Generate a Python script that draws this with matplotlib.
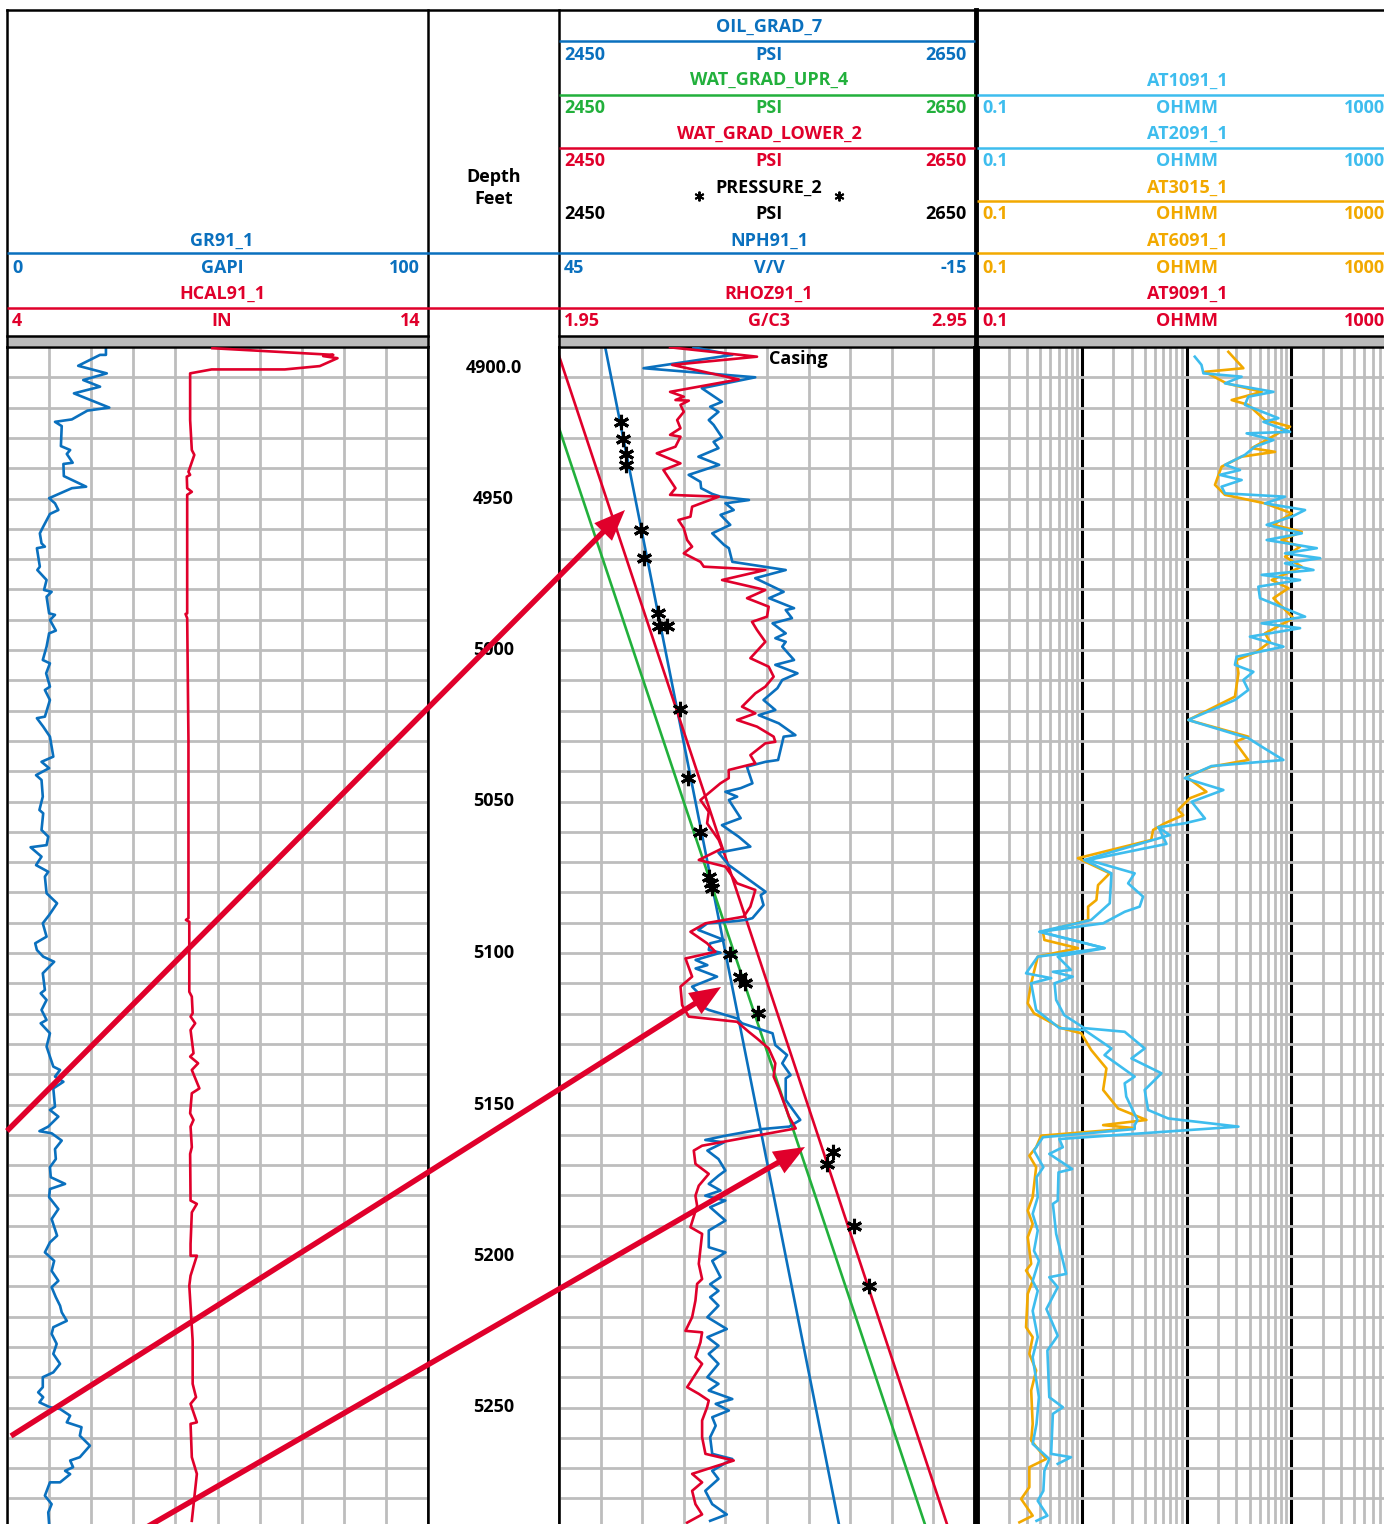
import numpy as np
import matplotlib
matplotlib.use('Agg')
import matplotlib.pyplot as plt
from matplotlib.patches import FancyArrow, Rectangle

plt.rcParams['font.family'] = ['Open Sans', 'DejaVu Sans']
plt.rcParams['font.weight'] = 'bold'

# ---------------- DATA ----------------
gr_depth = [4900.0, 4902.6, 4902.6, 4906.2, 4908.7, 4910.9, 4913.1, 4915.3, 4920.0, 4921.0,
            4923.9, 4924.7, 4926.1, 4932.7, 4934.0, 4935.3, 4938.2, 4938.6, 4942.6, 4946.1,
            4946.6, 4949.9, 4951.6, 4953.8, 4955.1, 4959.3, 4961.5, 4964.8, 4965.9, 4966.4,
            4972.5, 4973.6, 4976.9, 4980.2, 4980.8, 4982.4, 4987.9, 4988.4, 4990.1, 4993.6,
            4994.5, 4998.9, 5003.3, 5004.4, 5007.7, 5012.1, 5013.2, 5016.5, 5022.0, 5022.5,
            5025.3, 5028.6, 5035.2, 5036.9, 5039.0, 5041.3, 5042.9, 5048.4, 5052.8, 5053.9,
            5059.4, 5061.6, 5064.4, 5065.1, 5068.2, 5071.0, 5073.2, 5074.8, 5080.3, 5083.6,
            5087.5, 5090.2, 5094.6, 5096.8, 5099.0, 5101.2, 5102.9, 5106.7, 5112.2, 5113.3,
            5115.5, 5118.8, 5122.1, 5123.2, 5126.5, 5130.9, 5134.2, 5137.5, 5138.6, 5140.8,
            5142.5, 5144.7, 5150.7, 5151.8, 5154.0, 5157.3, 5158.8, 5159.5, 5161.9, 5164.7,
            5168.0, 5170.7, 5174.0, 5176.2, 5177.9, 5180.6, 5184.5, 5187.8, 5193.3, 5195.5,
            5198.8, 5201.6, 5204.9, 5208.2, 5210.3, 5213.6, 5216.4, 5218.6, 5221.4, 5223.5,
            5225.7, 5229.0, 5232.3, 5235.6, 5238.4, 5240.0, 5243.3, 5245.0, 5246.6, 5248.3,
            5249.9, 5250.5, 5252.7, 5254.9, 5256.5, 5259.3, 5262.6, 5266.4, 5267.5, 5269.7,
            5270.9, 5272.0, 5274.7, 5274.7, 5279.1, 5281.9, 5284.6, 5288.4]
gr_gapi = [23.5, 23.5, 22.1, 16.9, 23.7, 18.1, 22.1, 15.9, 24.3, 19.1,
           15.4, 11.4, 13.0, 12.8, 15.0, 14.2, 15.6, 13.4, 13.5, 18.8,
           15.4, 10.0, 11.4, 12.2, 10.2, 8.6, 7.8, 8.2, 9.0, 7.1,
           7.8, 7.2, 9.4, 8.8, 10.6, 9.4, 10.0, 11.4, 10.2, 11.6,
           10.0, 9.4, 8.5, 10.2, 9.3, 10.2, 9.0, 10.2, 9.0, 7.1,
           8.6, 10.2, 11.0, 8.2, 10.0, 6.9, 8.2, 8.5, 7.7, 8.6,
           8.2, 9.8, 9.4, 5.6, 8.2, 6.9, 9.8, 9.0, 9.4, 11.9,
           10.0, 8.5, 9.4, 6.7, 7.1, 8.6, 11.2, 8.5, 9.0, 8.0,
           9.4, 8.2, 9.4, 8.0, 10.2, 9.4, 10.2, 11.0, 12.6, 11.4,
           13.4, 11.0, 11.4, 10.2, 12.2, 9.8, 7.7, 10.6, 13.0, 11.4,
           11.6, 10.2, 10.4, 13.8, 10.2, 10.0, 12.2, 10.6, 11.9, 10.2,
           9.0, 11.2, 10.6, 12.2, 10.6, 11.6, 12.6, 13.0, 14.2, 11.0,
           10.6, 11.8, 11.0, 12.6, 11.0, 8.5, 8.5, 7.4, 8.6, 7.7,
           10.2, 12.6, 15.0, 14.2, 17.7, 17.3, 19.7, 17.3, 15.0, 15.7,
           13.8, 15.0, 12.6, 10.2, 9.0, 10.6, 9.8, 10.0]

hcal_depth = [4900.4, 4902.6, 4903.0, 4903.7, 4906.3, 4907.4, 4907.4, 4908.7, 4924.1, 4934.0,
              4935.6, 4941.2, 4942.2, 4942.8, 4946.6, 4947.8, 4948.8, 4987.9, 4988.1, 4989.5,
              5029.7, 5088.5, 5089.1, 5089.7, 5112.8, 5114.4, 5119.9, 5121.0, 5123.2, 5125.4,
              5133.1, 5134.2, 5136.4, 5138.6, 5144.7, 5146.3, 5152.9, 5155.1, 5157.3, 5164.1,
              5166.3, 5181.7, 5182.8, 5185.6, 5196.0, 5199.9, 5199.9, 5206.5, 5209.8, 5228.0,
              5242.2, 5246.6, 5248.8, 5254.9, 5255.4, 5266.4, 5271.9, 5287.4]
hcal_in = [8.88, 11.75, 11.51, 11.85, 11.43, 10.60, 8.86, 8.35,
           8.35, 8.39, 8.45, 8.31, 8.35, 8.27, 8.28, 8.39, 8.28, 8.28, 8.24, 8.28, 8.31,
           8.31, 8.25, 8.33, 8.33, 8.39, 8.41, 8.36, 8.47, 8.36, 8.43, 8.35, 8.54, 8.39, 8.57,
           8.39, 8.35, 8.43, 8.36, 8.39, 8.35, 8.36, 8.51, 8.39, 8.36, 8.36, 8.51, 8.36, 8.33,
           8.41, 8.41, 8.49, 8.36, 8.51, 8.36, 8.39, 8.51, 8.39]

nphi_depth = [4900.1, 4902.6, 4907.0, 4910.0, 4913.6, 4918.1, 4919.7, 4921.4, 4924.1, 4925.7,
              4929.8, 4931.3, 4933.4, 4936.2, 4938.9, 4942.2, 4944.5, 4946.6, 4948.5, 4949.4,
              4950.5, 4951.6, 4953.8, 4955.4, 4958.7, 4961.5, 4965.3, 4966.4, 4970.9, 4973.6,
              4976.3, 4980.8, 4982.9, 4986.2, 4986.8, 4989.5, 4991.2, 4994.5, 4996.1, 4997.3,
              4998.9, 5003.3, 5004.9, 5007.7, 5009.9, 5012.6, 5016.5, 5019.8, 5021.5, 5024.2,
              5028.1, 5028.6, 5036.3, 5036.9, 5038.5, 5044.0, 5045.6, 5046.8, 5048.4, 5049.5,
              5055.5, 5057.8, 5061.6, 5064.9, 5066.9, 5071.0, 5079.8, 5080.9, 5084.2, 5088.5,
              5089.1, 5089.7, 5090.2, 5092.4, 5095.7, 5096.8, 5099.0, 5099.9, 5102.3, 5104.0,
              5105.1, 5107.8, 5111.1, 5114.4, 5117.7, 5118.8, 5121.6, 5123.2, 5126.5, 5130.4,
              5133.7, 5136.4, 5140.3, 5141.4, 5148.5, 5155.1, 5157.3, 5158.1, 5160.3, 5161.7,
              5162.5, 5165.2, 5168.0, 5171.8, 5173.5, 5176.2, 5178.4, 5180.1, 5181.7, 5183.9,
              5188.3, 5191.6, 5197.1, 5198.8, 5201.6, 5207.0, 5209.3, 5211.5, 5213.6, 5216.4,
              5220.2, 5224.1, 5226.8, 5229.6, 5232.3, 5235.6, 5240.0, 5242.2, 5244.4, 5247.2,
              5248.8, 5251.0, 5253.2, 5256.0, 5259.8, 5265.3, 5267.0, 5270.9, 5273.6, 5277.5,
              5281.9, 5285.3, 5287.4]
nphi_vv = [25.6, 20.0, 32.8, 16.7, 24.4, 21.5, 23.2, 22.0, 23.4, 22.7,
           21.5, 22.7, 22.0, 24.9, 21.9, 26.3, 24.6, 24.5, 22.9, 21.7,
           17.6, 21.0, 19.8, 21.7, 20.3, 22.9, 21.2, 20.5, 20.0, 12.3,
           16.7, 12.6, 14.7, 11.1, 12.3, 11.4, 14.2, 12.3, 13.8, 12.3,
           12.8, 11.1, 13.8, 10.6, 12.8, 13.5, 15.5, 13.8, 16.2, 13.3,
           10.9, 12.6, 13.4, 15.2, 17.9, 17.1, 18.8, 21.0, 19.3, 20.5,
           18.8, 21.5, 19.1, 17.4, 22.0, 20.5, 15.2, 15.9, 15.5, 17.1,
           18.1, 20.5, 23.6, 24.9, 21.2, 23.2, 23.4, 21.7, 25.3, 23.6,
           25.3, 22.2, 25.8, 24.4, 24.4, 23.4, 19.3, 18.6, 14.2, 13.8,
           12.1, 12.8, 11.6, 12.3, 12.3, 10.2, 11.8, 15.7, 21.0, 23.9,
           21.2, 23.6, 22.0, 21.0, 22.0, 23.4, 21.7, 23.9, 21.0, 23.2,
           21.0, 23.4, 23.4, 21.0, 22.9, 21.7, 23.2, 22.0, 23.2, 22.0,
           23.6, 20.8, 23.6, 22.0, 23.4, 22.0, 23.6, 22.0, 23.4, 20.0,
           22.4, 20.5, 22.9, 22.4, 23.2, 22.9, 20.0, 22.9, 22.0, 23.9,
           22.9, 20.8, 23.2]

rhoz_depth = [4900.1, 4903.2, 4905.9, 4910.7, 4914.8, 4916.4, 4917.5, 4917.7, 4919.1, 4921.4,
              4924.1, 4926.8, 4929.0, 4929.6, 4932.9, 4935.1, 4938.4, 4940.6, 4943.9, 4946.6,
              4948.8, 4949.4, 4952.7, 4956.0, 4957.1, 4959.8, 4963.7, 4965.9, 4968.1, 4970.9,
              4972.5, 4973.6, 4976.9, 4980.2, 4982.9, 4985.7, 4989.0, 4990.7, 4993.4, 4997.3,
              5002.7, 5005.5, 5008.8, 5012.1, 5014.3, 5016.5, 5018.7, 5020.9, 5023.1, 5025.3,
              5028.6, 5030.3, 5030.8, 5034.7, 5037.4, 5039.6, 5042.3, 5044.0, 5049.5, 5053.4,
              5057.2, 5062.7, 5065.5, 5069.3, 5071.5, 5077.0, 5079.2, 5084.7, 5088.0, 5090.2,
              5093.0, 5096.8, 5099.6, 5101.8, 5107.8, 5111.1, 5117.2, 5121.0, 5122.7, 5126.0,
              5128.2, 5131.5, 5136.4, 5140.8, 5144.7, 5154.0, 5157.9, 5163.6, 5165.2, 5169.6,
              5172.9, 5176.8, 5180.1, 5183.4, 5190.5, 5192.7, 5202.6, 5207.6, 5209.2, 5214.7,
              5220.2, 5224.7, 5225.2, 5228.5, 5233.4, 5235.6, 5243.3, 5245.5, 5247.7, 5249.9,
              5254.3, 5259.8, 5265.3, 5267.5, 5271.9, 5274.7, 5277.5, 5281.9, 5285.3, 5288.0]
rhoz_gc3 = [2.217, 2.426, 2.222, 2.382, 2.217, 2.250, 2.230, 2.262, 2.242, 2.250,
            2.234, 2.242, 2.217, 2.242, 2.230, 2.185, 2.242, 2.201, 2.217, 2.230,
            2.217, 2.334, 2.270, 2.266, 2.237, 2.250, 2.258, 2.270, 2.250, 2.290,
            2.298, 2.446, 2.342, 2.446, 2.402, 2.454, 2.450, 2.414, 2.426, 2.446,
            2.410, 2.454, 2.466, 2.446, 2.422, 2.406, 2.390, 2.422, 2.378, 2.426,
            2.466, 2.470, 2.446, 2.410, 2.422, 2.358, 2.358, 2.338, 2.290, 2.310,
            2.306, 2.334, 2.342, 2.286, 2.350, 2.378, 2.422, 2.410, 2.394, 2.302,
            2.266, 2.306, 2.326, 2.254, 2.270, 2.242, 2.246, 2.262, 2.378, 2.406,
            2.426, 2.454, 2.470, 2.466, 2.478, 2.503, 2.519, 2.294, 2.274, 2.278,
            2.310, 2.286, 2.278, 2.282, 2.266, 2.294, 2.286, 2.294, 2.282, 2.278,
            2.270, 2.254, 2.294, 2.290, 2.278, 2.294, 2.258, 2.286, 2.310, 2.306,
            2.294, 2.294, 2.302, 2.370, 2.270, 2.294, 2.270, 2.278, 2.294, 2.258]

at10_depth = [4903.2, 4905.9, 4908.7, 4909.8, 4912.0, 4914.8, 4916.4, 4919.1, 4923.5, 4924.7,
              4928.0, 4928.5, 4930.7, 4932.9, 4935.6, 4938.9, 4940.6, 4942.2, 4943.9, 4946.1,
              4948.3, 4949.4, 4951.6, 4953.8, 4956.0, 4958.7, 4961.5, 4963.7, 4966.4, 4968.1,
              4969.7, 4971.4, 4973.6, 4975.2, 4976.9, 4979.1, 4982.9, 4989.0, 4991.2, 4992.8,
              4995.6, 4998.9, 5002.2, 5004.9, 5007.2, 5009.9, 5013.2, 5016.5, 5023.1, 5029.1,
              5031.9, 5036.3, 5038.3, 5042.3, 5046.2, 5050.1, 5055.6, 5057.2, 5058.5, 5061.1,
              5069.3, 5073.7, 5083.6, 5089.1, 5093.0, 5098.4, 5101.2, 5106.7, 5108.3, 5110.0,
              5118.8, 5124.8, 5125.4, 5131.5, 5133.7, 5140.8, 5143.0, 5147.4, 5155.1, 5156.8,
              5158.1, 5160.8, 5165.2, 5170.7, 5174.0, 5180.6, 5186.1, 5191.6, 5198.3, 5201.6,
              5208.2, 5211.5, 5218.1, 5226.8, 5233.4, 5246.6, 5255.4, 5262.0, 5267.0, 5270.9,
              5277.5, 5280.8, 5285.7, 5287.4]
at10_ohmm = [12.0, 13.9, 14.5, 33.6, 23.3, 67.6, 38.9, 36.1, 75.4, 54.2,
             97.4, 37.5, 67.6, 45.0, 36.1, 23.3, 32.4, 20.8, 33.6, 21.6,
             23.3, 87.2, 56.1, 135.5, 101.1, 58.3, 126.0, 58.3, 175.4, 87.2,
             188.7, 87.2, 163.0, 52.2, 121.4, 48.5, 50.3, 135.5, 52.2, 121.4,
             40.3, 84.2, 30.1, 29.0, 43.5, 34.9, 38.9, 29.0, 10.4, 38.9,
             52.2, 84.2, 17.3, 9.6, 22.5, 11.2, 15.0, 9.6, 5.4, 6.9,
             1.06, 1.92, 1.85, 1.23, 0.394, 1.65, 0.38, 0.294, 0.51, 0.329,
             0.367, 0.614, 1.06, 1.92, 1.65, 3.2, 2.57, 2.66, 3.4, 3.2,
             3.2, 0.426, 0.35, 0.43, 0.37, 0.38, 0.34, 0.38, 0.35, 0.39,
             0.34, 0.38, 0.34, 0.38, 0.34, 0.39, 0.37, 0.34, 0.49, 0.44,
             0.43, 0.38, 0.47, 0.37]

at20_depth = [5058.5, 5064.0, 5069.3, 5073.7, 5077.0, 5081.4, 5084.7, 5086.4, 5090.2, 5093.0,
              5098.4, 5101.2, 5105.6, 5106.2, 5107.8, 5110.0, 5115.5, 5120.5, 5124.8, 5126.0,
              5131.5, 5134.8, 5139.7, 5145.2, 5151.8, 5154.6, 5157.3, 5161.4, 5164.1, 5166.3,
              5171.3, 5172.4, 5181.7, 5182.8, 5192.7, 5205.9, 5207.0, 5210.3, 5217.5, 5226.3,
              5231.2, 5246.6, 5249.9, 5252.1, 5265.3, 5266.4, 5268.6]
at20_ohmm = [5.4, 6.44, 1.15, 3.2, 2.77, 3.85, 3.57, 2.57, 1.60, 0.40,
             1.65, 0.59, 0.79, 0.53, 0.82, 0.55, 0.57, 0.68, 1.06, 2.57,
             3.99, 2.98, 5.77, 3.99, 4.30, 6.68, 31.3, 0.61, 0.66, 0.49,
             0.81, 0.60, 0.59, 0.53, 0.57, 0.71, 0.49, 0.59, 0.46, 0.59,
             0.47, 0.49, 0.66, 0.53, 0.51, 0.79, 0.59]

at30_depth = [4901.6, 4907.0, 4908.2, 4912.0, 4914.8, 4917.5, 4919.1, 4924.1, 4926.3, 4933.4,
              4934.6, 4936.2, 4939.5, 4945.5, 4948.8, 4951.6, 4954.9, 4958.7, 4961.0, 4963.7,
              4965.9, 4969.2, 4972.5, 4976.9, 4979.6, 4982.9, 4989.5, 4994.5, 4997.3, 5000.6,
              5003.3, 5007.7, 5015.4, 5023.1, 5028.6, 5030.3, 5036.3, 5038.5, 5041.8, 5046.8,
              5048.9, 5052.8, 5054.5, 5057.2, 5059.4, 5062.7, 5068.7, 5073.7, 5077.6, 5082.5,
              5084.7, 5089.1, 5093.0, 5095.7, 5098.4, 5101.2, 5110.0, 5116.6, 5119.9, 5124.8,
              5126.5, 5132.0, 5138.1, 5145.2, 5151.3, 5155.1, 5156.8, 5157.8, 5160.3, 5164.1,
              5166.9, 5170.7, 5180.6, 5185.0, 5189.4, 5193.8, 5202.6, 5204.8, 5208.2, 5212.5,
              5223.5, 5226.8, 5232.3, 5237.8, 5244.4, 5255.4, 5260.9, 5267.0, 5269.7, 5276.3,
              5280.2, 5285.7, 5287.9]
at30_ohmm = [25.1, 34.9, 15.0, 24.1, 52.2, 27.0, 38.9, 56.1, 97.4, 41.9,
             70.0, 33.6, 21.6, 18.7, 23.3, 56.1, 101.1, 67.6, 126.0, 81.1,
             121.4, 87.2, 126.0, 65.1, 94.0, 67.6, 105.0, 56.1, 62.7, 46.8,
             30.1, 31.3, 29.0, 10.4, 38.9, 29.0, 38.9, 17.3, 10.0, 15.5,
             10.8, 8.3, 9.3, 6.2, 4.8, 4.6, 0.92, 1.85, 1.43, 1.38,
             1.15, 1.15, 0.426, 0.44, 0.92, 0.38, 0.329, 0.305, 0.35, 0.64,
             0.99, 1.23, 1.72, 1.60, 2.22, 4.14, 1.60, 3.2, 0.409, 0.367,
             0.316, 0.367, 0.34, 0.305, 0.34, 0.305, 0.329, 0.294, 0.34, 0.305,
             0.294, 0.34, 0.316, 0.367, 0.329, 0.34, 0.329, 0.457, 0.316, 0.316,
             0.264, 0.34, 0.254]

press_depth = [4924.7, 4930.4, 4935.4, 4938.9, 4960.4, 4969.7, 4987.9, 4992.0, 4992.0, 5019.6,
               5042.2, 5060.0, 5074.8, 5076.8, 5078.7, 5100.3, 5107.8, 5109.8, 5119.9, 5165.8,
               5169.6, 5190.0, 5210.0]
press_psi = [2479.9, 2481.0, 2482.3, 2482.1, 2489.4, 2490.8, 2497.4, 2497.9, 2501.9, 2508.0,
             2512.0, 2517.6, 2522.3, 2522.9, 2523.4, 2532.3, 2536.8, 2539.3, 2545.6, 2581.7,
             2579.0, 2591.8, 2599.1]

grad_depth = [4900.0, 5300.0]
oil_grad_psi = [2472.2, 2587.9]
wat_upr_psi = [2437.0, 2631.5]
wat_lower_psi = [2448.6, 2642.1]

depth_labels = [(4950, '4950'), (5000, '5000'), (5050, '5050'), (5100, '5100'),
                (5150, '5150'), (5200, '5200'), (5250, '5250')]

# ---------------- STYLE ----------------
BLUE = '#0A70BE'
RED = '#E0002B'
GREEN = '#22B03C'
LBLUE = '#3EBDEE'
ORANGE = '#F2A900'
GRID = '#BDBDBD'
FS = 13
LW = 1.9
GLW = 2.0

W, H = 1384, 1524
fig = plt.figure(figsize=(W / 100, H / 100), dpi=100)

TOP_DEPTH = 4900.0
DATA_TOP = 347
PX_PER_FT = 3.03
BOT_DEPTH = TOP_DEPTH + (H - DATA_TOP) / PX_PER_FT

T1 = (7, 428); TD = (428, 559); T2 = (559, 975); T3 = (977, 1396)


def rect(x0, x1, y0=DATA_TOP, y1=H):
    return [x0 / W, 1 - y1 / H, (x1 - x0) / W, (y1 - y0) / H]


def base(ax):
    ax.set_ylim(BOT_DEPTH, TOP_DEPTH)
    ax.tick_params(which='both', length=0, labelbottom=False, labelleft=False,
                   labeltop=False, labelright=False)
    ax.spines['bottom'].set_visible(False)
    for s in ('left', 'right', 'top'):
        ax.spines[s].set_linewidth(1.8)
        ax.spines[s].set_color('black')
    ax.set_axisbelow(True)


def twin(ax, lim, scale='linear'):
    t = ax.twiny()
    t.set_xscale(scale)
    t.set_xlim(*lim)
    t.set_ylim(BOT_DEPTH, TOP_DEPTH)
    t.patch.set_visible(False)
    t.tick_params(which='both', length=0, labelbottom=False, labelleft=False,
                  labeltop=False, labelright=False)
    for s in t.spines.values():
        s.set_visible(False)
    return t


yt = np.arange(4910, 5290, 10)

# Track 1
ax1 = fig.add_axes(rect(*T1))
base(ax1)
ax1.set_xlim(0, 100)
ax1.set_xticks(np.linspace(0, 100, 11))
ax1.set_yticks(yt)
ax1.grid(True, color=GRID, lw=GLW)
ax1.plot(gr_gapi, gr_depth, color=BLUE, lw=LW)
ax1c = twin(ax1, (4, 14))
ax1c.plot(hcal_in, hcal_depth, color=RED, lw=LW)

# Depth track
axd = fig.add_axes(rect(*TD))
base(axd)
axd.spines['top'].set_visible(False)
axd.set_xlim(0, 1)
axd.set_xticks([]); axd.set_yticks([])
for d, lab in depth_labels:
    axd.text(0.5, d, lab, ha='center', va='center', fontsize=FS, fontweight='bold')
axd.annotate('4900.0', xy=(0.5, TOP_DEPTH), xytext=(0, -15), textcoords='offset points',
             ha='center', va='center', fontsize=FS, fontweight='bold')

# Track 2
ax2 = fig.add_axes(rect(*T2))
base(ax2)
ax2.set_xlim(2450, 2650)
ax2.set_xticks(np.linspace(2450, 2650, 11))
ax2.set_yticks(yt)
ax2.grid(True, color=GRID, lw=GLW)
ax2.spines['right'].set_linewidth(3.5)
ax2.plot(oil_grad_psi, grad_depth, color=BLUE, lw=LW)
ax2.plot(wat_upr_psi, grad_depth, color=GREEN, lw=LW)
ax2.plot(wat_lower_psi, grad_depth, color=RED, lw=LW)
ax2.text(2551, 4904, 'Casing', fontsize=FS, fontweight='bold', va='center', ha='left')
ax2n = twin(ax2, (45, -15))
ax2n.plot(nphi_vv, nphi_depth, color=BLUE, lw=LW)
ax2r = twin(ax2, (1.95, 2.95))
ax2r.plot(rhoz_gc3, rhoz_depth, color=RED, lw=LW)
ax2p = twin(ax2, (2450, 2650))
ax2p.plot(press_psi, press_depth, ls='none', marker=(6, 2, 0), ms=11, mew=2.2, color='black')

# Track 3
ax3 = fig.add_axes(rect(*T3))
base(ax3)
ax3.set_xscale('log')
ax3.set_xlim(0.1, 1000)
ax3.spines['left'].set_linewidth(3.5)
ax3.set_xticks([1, 10, 100])
minors = [m * 10.0 ** e for e in range(-1, 3) for m in range(2, 10)]
ax3.set_xticks(minors, minor=True)
ax3.set_yticks(yt)
ax3.xaxis.grid(True, which='major', color='black', lw=2.2)
ax3.xaxis.grid(True, which='minor', color=GRID, lw=GLW)
ax3.yaxis.grid(True, which='major', color=GRID, lw=GLW)
ax3.tick_params(which='both', length=0, labelbottom=False, labelleft=False)
ax3.plot(at30_ohmm, at30_depth, color=ORANGE, lw=LW)
ax3.plot(at10_ohmm, at10_depth, color=LBLUE, lw=LW)
ax3.plot(at20_ohmm, at20_depth, color=LBLUE, lw=LW)

# ---------------- HEADER OVERLAY ----------------
ov = fig.add_axes([0, 0, 1, 1], zorder=20)
ov.set_xlim(0, W)
ov.set_ylim(H, 0)
ov.axis('off')

K = 'black'
ov.plot([7, W], [10, 10], color=K, lw=1.8)
ov.plot([7, 7], [10, DATA_TOP], color=K, lw=1.8)
ov.plot([428, 428], [10, DATA_TOP], color=K, lw=1.8)
ov.plot([559, 559], [10, DATA_TOP], color=K, lw=1.8)
ov.plot([975.5, 975.5], [10, DATA_TOP], color=K, lw=3.5)
for (a, b) in [(7, 428), (559, 975), (977, W)]:
    ov.add_patch(Rectangle((a, 336), b - a, 10, facecolor='#BBBBBB', edgecolor='none'))
    ov.plot([a, b], [335.5, 335.5], color=K, lw=1.8)


def hline(x0, x1, y, c):
    ov.plot([x0, x1], [y, y], color=c, lw=1.8, solid_capstyle='butt')


def txt(x, y, s, c, ha='center'):
    ov.text(x, y, s, color=c, ha=ha, va='center', fontsize=FS, fontweight='bold')


def curve_head(track, cx, yname, yline, yscale, name, c, left, unit, right, line=True,
               lx1=None, rpad=8):
    x0, x1 = track
    txt(cx, yname, name, c)
    if line:
        hline(x0, lx1 if lx1 is not None else x1, yline, c)
    txt(x0 + 5, yscale, left, c, ha='left')
    txt(cx, yscale, unit, c)
    txt(x1 - rpad, yscale, right, c, ha='right')


# Track 1 header
curve_head(T1, 222, 241, 253, 268, 'GR91_1', BLUE, '0', 'GAPI', '100', lx1=559)
curve_head(T1, 222, 294, 308, 321, 'HCAL91_1', RED, '4', 'IN', '14', lx1=559)
txt(494, 177, 'Depth', K)
txt(494, 199, 'Feet', K)

# Track 2 header
c2 = 769
curve_head(T2, c2, 27, 41, 55, 'OIL_GRAD_7', BLUE, '2450', 'PSI', '2650')
curve_head(T2, c2, 80, 95, 108, 'WAT_GRAD_UPR_4', GREEN, '2450', 'PSI', '2650')
curve_head(T2, c2, 134, 148, 161, 'WAT_GRAD_LOWER_2', RED, '2450', 'PSI', '2650')
curve_head(T2, c2, 188, 201, 214, 'PRESSURE_2', K, '2450', 'PSI', '2650', line=False)
ov.plot([699, 839], [196, 196], ls='none', marker=(6, 2, 0), ms=7, mew=1.4, color=K)
curve_head(T2, c2, 241, 253, 268, 'NPH91_1', BLUE, '45', 'V/V', '-15')
curve_head(T2, c2, 294, 308, 321, 'RHOZ91_1', RED, '1.95', 'G/C3', '2.95')

# Track 3 header
c3 = 1187
T3h = (977, W)
for (nm, col, yn, yl, ys) in [('AT1091_1', LBLUE, 81, 95, 108),
                              ('AT2091_1', LBLUE, 134, 148, 161),
                              ('AT3015_1', ORANGE, 188, 201, 214),
                              ('AT6091_1', ORANGE, 241, 253, 268),
                              ('AT9091_1', RED, 294, 308, 321)]:
    curve_head(T3h, c3, yn, yl, ys, nm, col, '0.1', 'OHMM', '1000', rpad=-1)

# Annotation arrows
for (tx, ty, hx, hy) in [(7, 1131, 625, 510), (11, 1436, 721, 987), (140, 1531, 805, 1147)]:
    ov.add_patch(FancyArrow(tx, ty, hx - tx, hy - ty, width=5.5, head_width=25,
                            head_length=31, length_includes_head=True,
                            color=RED, ec='none'))

fig.savefig('out.png', dpi=100)
